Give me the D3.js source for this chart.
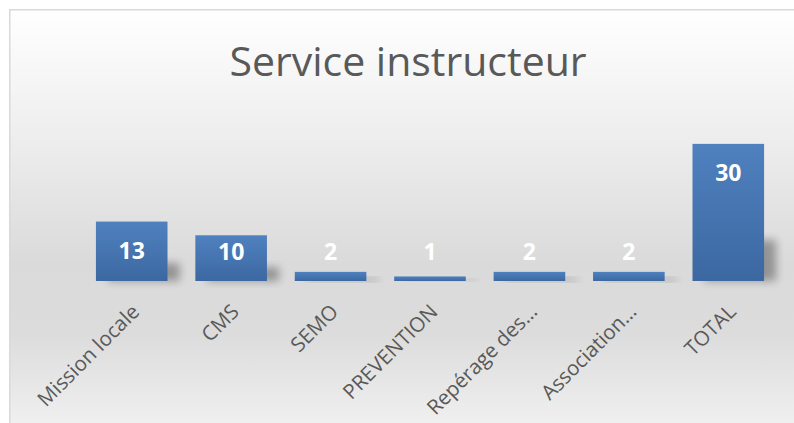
<!DOCTYPE html>
<html>
<head>
<meta charset="utf-8">
<script src="https://cdn.jsdelivr.net/npm/d3@7"></script>
<style>
  html, body { margin: 0; padding: 0; background: #ffffff; }
  svg { display: block; }
</style>
</head>
<body>
<div id="chart"></div>
<script>
// Chart data
const categories = ["Mission locale", "CMS", "SEMO", "PREVENTION", "Repérage des…", "Association…", "TOTAL"];
const values = [13, 10, 2, 1, 2, 2, 30];
const chartTitle = "Service instructeur";

const W = 794, H = 423;
const svg = d3.select("#chart").append("svg")
  .attr("width", W).attr("height", H);

const defs = svg.append("defs");

// Chart area background: white at top, grey around the baseline, fading back to white
const bg = defs.append("linearGradient")
  .attr("id", "bgGrad").attr("x1", 0).attr("y1", 0).attr("x2", 0).attr("y2", 1);
bg.append("stop").attr("offset", "0%").attr("stop-color", "#ffffff");
bg.append("stop").attr("offset", "30%").attr("stop-color", "#ececec");
bg.append("stop").attr("offset", "55%").attr("stop-color", "#dadada");
bg.append("stop").attr("offset", "70%").attr("stop-color", "#dcdcdc");
bg.append("stop").attr("offset", "100%").attr("stop-color", "#fafafa");

// Bar fill gradient
const barGrad = defs.append("linearGradient")
  .attr("id", "barGrad").attr("x1", 0).attr("y1", 0).attr("x2", 0).attr("y2", 1);
barGrad.append("stop").attr("offset", "0%").attr("stop-color", "#4f81bf");
barGrad.append("stop").attr("offset", "100%").attr("stop-color", "#3c68a1");

// Soft shadow blur
defs.append("filter").attr("id", "shadowBlur")
  .attr("x", "-50%").attr("y", "-50%").attr("width", "200%").attr("height", "200%")
  .append("feGaussianBlur").attr("stdDeviation", 4);

// Frame
svg.append("rect")
  .attr("x", 9.75).attr("y", 9.75)
  .attr("width", W + 20).attr("height", H + 40)
  .attr("fill", "url(#bgGrad)")
  .attr("stroke", "#d9d9d9").attr("stroke-width", 1.5);

// Title
svg.append("text")
  .attr("x", 408).attr("y", 76)
  .attr("text-anchor", "middle")
  .attr("font-family", "'Open Sans', sans-serif")
  .attr("font-size", 41)
  .attr("fill", "#595959")
  .text(chartTitle);

// Scales
const x = d3.scaleBand()
  .domain(categories)
  .range([82, 778])
  .paddingInner(0.28)
  .paddingOuter(0.14);

const y = d3.scaleLinear()
  .domain([0, 35])
  .range([281, 121]);

const data = categories.map((c, i) => ({ cat: c, val: values[i] }));

// Perspective shadows behind the bars
svg.append("g").selectAll("rect")
  .data(data)
  .join("rect")
  .attr("x", d => x(d.cat) + 12)
  .attr("y", d => y(0) - (y(0) - y(d.val)) * 0.3)
  .attr("width", x.bandwidth())
  .attr("height", d => (y(0) - y(d.val)) * 0.3)
  .attr("fill", "#000")
  .attr("opacity", 0.32)
  .attr("filter", "url(#shadowBlur)");

// Bars
svg.append("g").selectAll("rect")
  .data(data)
  .join("rect")
  .attr("x", d => x(d.cat))
  .attr("y", d => y(d.val))
  .attr("width", x.bandwidth())
  .attr("height", d => y(0) - y(d.val))
  .attr("fill", "url(#barGrad)");

// Value labels near the top of each bar
svg.append("g").selectAll("text")
  .data(data)
  .join("text")
  .attr("x", d => x(d.cat) + x.bandwidth() / 2)
  .attr("y", d => Math.min(y(d.val) + 29, y(0) - 29) + 8)
  .attr("text-anchor", "middle")
  .attr("font-family", "'Open Sans', sans-serif")
  .attr("font-weight", "bold")
  .attr("font-size", 23)
  .attr("fill", "#ffffff")
  .text(d => d.val);

// Category axis with rotated labels
const xAxis = svg.append("g")
  .attr("transform", `translate(0,${y(0)})`)
  .call(d3.axisBottom(x).tickSize(0).tickPadding(0));
xAxis.select(".domain").remove();
xAxis.selectAll("text")
  .attr("font-family", "'Open Sans', sans-serif")
  .attr("font-size", 20.5)
  .attr("fill", "#595959")
  .attr("text-anchor", "end")
  .attr("dy", null)
  .attr("y", 0)
  .attr("transform", "translate(9,32) rotate(-45)");
</script>
</body>
</html>
